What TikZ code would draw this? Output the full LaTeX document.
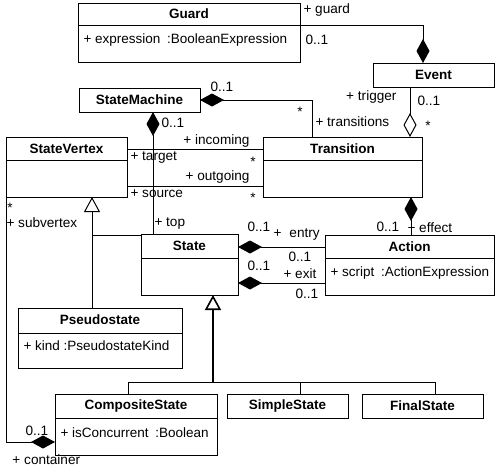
\documentclass[tikz,border=0pt]{standalone}
\usepackage{fontspec}
\setmainfont{Liberation Sans}
\usetikzlibrary{arrows.meta,calc}
\begin{document}
\begin{tikzpicture}[x=1pt,y=-1pt, line width=1pt,
  box/.style={draw, line width=1pt, anchor=north west, inner sep=0pt, outer sep=0pt},
  ttl/.style={font=\fontsize{13.5}{15}\selectfont\bfseries, inner sep=0pt},
  attr/.style={font=\fontsize{13.5}{15}\selectfont, anchor=west, inner sep=0pt},
  lbl/.style={font=\fontsize{13.6}{15}\selectfont, inner sep=0pt},
  comp/.style={{Diamond[length=24pt,width=13pt]}-},
  aggr/.style={{Diamond[open,length=24pt,width=13pt]}-},
  gen/.style={{Triangle[open,length=15pt,width=16pt]}-},
]
\useasboundingbox (0,0) rectangle (496,469);

% ---- classes ----
\node[box, minimum width=222pt, minimum height=59pt] (guard) at (78,3) {};
\node[ttl] (guardt) at ($(guard.north)+(0,11)$) {Guard};
\draw ($(guard.north west)+(0,22)$) -- ($(guard.north east)+(0,22)$);
\node[attr] (guarda) at (83,40) {+ expression\enspace:BooleanExpression};

\node[box, minimum width=121pt, minimum height=24pt] (event) at (373,63) {};
\node[ttl] (eventt) at (event.center) {Event};

\node[box, minimum width=121pt, minimum height=24pt] (sm) at (79,88) {};
\node[ttl] (smt) at (sm.center) {StateMachine};

\node[box, minimum width=121pt, minimum height=60pt] (sv) at (6,137) {};
\node[ttl] (svt) at ($(sv.north)+(0,12)$) {StateVertex};
\draw ($(sv.north west)+(0,23)$) -- ($(sv.north east)+(0,23)$);

\node[box, minimum width=159pt, minimum height=60pt] (trans) at (263,137) {};
\node[ttl] (transt) at ($(trans.north)+(0,12)$) {Transition};
\draw ($(trans.north west)+(0,23)$) -- ($(trans.north east)+(0,23)$);

\node[box, minimum width=97pt, minimum height=61pt] (state) at (141,234) {};
\node[ttl] (statet) at ($(state.north)+(0,12)$) {State};
\draw ($(state.north west)+(0,24)$) -- ($(state.north east)+(0,24)$);

\node[box, minimum width=169pt, minimum height=60pt] (action) at (325,235) {};
\node[ttl] (actiont) at ($(action.north)+(0,12)$) {Action};
\draw ($(action.north west)+(0,23)$) -- ($(action.north east)+(0,23)$);
\node[attr] (actiona) at (330,273) {+ script\enspace:ActionExpression};

\node[box, minimum width=164pt, minimum height=60pt] (ps) at (18,308) {};
\node[ttl] (pst) at ($(ps.north)+(0,12)$) {Pseudostate};
\draw ($(ps.north west)+(0,25)$) -- ($(ps.north east)+(0,25)$);
\node[attr] (psa) at (23,346) {+ kind :PseudostateKind};

\node[box, minimum width=162pt, minimum height=61pt] (cs) at (55,394) {};
\node[ttl] (cst) at ($(cs.north)+(0,12)$) {CompositeState};
\draw ($(cs.north west)+(0,24)$) -- ($(cs.north east)+(0,24)$);
\node[attr] (csa) at (60,433) {+ isConcurrent\enspace:Boolean};

\node[box, minimum width=121pt, minimum height=24pt] (ss) at (227,394) {};
\node[ttl] (sst) at (ss.center) {SimpleState};

\node[box, minimum width=121pt, minimum height=24pt] (fs) at (362,394) {};
\node[ttl] (fst) at (fs.center) {FinalState};

% ---- connectors ----
\draw[comp] ($(event.north west)+(50,0)$) |- ($(guard.north east)+(0,22)$);
\draw[comp] (sm.east) -| ($(trans.north west)+(49,0)$);
\draw[aggr] ($(trans.north west)+(147,0)$) -- ($(event.south west)+(37,0)$);
\draw[comp] ($(sm.south west)+(74,0)$) -- ($(state.north west)+(12,0)$);
\draw ($(sv.north east)+(0,12)$) -- ($(trans.north west)+(0,12)$);
\draw ($(sv.north east)+(0,49)$) -- ($(trans.north west)+(0,49)$);
\draw[comp] ($(trans.south west)+(148,0)$) -- ($(action.north west)+(86,0)$);
\draw[comp] ($(state.north east)+(0,13)$) -- ($(action.north west)+(0,12)$);
\draw[comp] ($(state.north east)+(0,49)$) -- ($(action.north west)+(0,48)$);

\coordinate (gs) at (213,382);
\draw[gen, line width=1.6pt] ($(state.south west)+(72,0)$) -- (gs);
\draw ($(cs.north west)+(73,0)$) |- (gs);
\draw ($(ss.north west)+(73,0)$) |- (gs);
\draw ($(fs.north west)+(73,0)$) |- (gs);

\draw[gen] ($(sv.south west)+(86,0)$) -- ($(ps.north west)+(74,0)$);
\draw ($(sv.south west)+(86,38)$) -- ($(state.north west)+(0,1)$);

\draw[comp] ($(cs.north west)+(0,48)$) -| (sv.south west);

% ---- labels ----
\node[lbl, anchor=west] (l1) at (303,10) {+ guard};
\node[lbl, anchor=west] (l2) at (305,40) {0..1};
\node[lbl, anchor=west] (l3) at (210,87) {0..1};
\node[lbl] (l4) at (300,112) {*};
\node[lbl, anchor=west] (l5) at (315,122) {+ transitions};
\node[lbl, anchor=east] (l6) at (397,97) {+ trigger};
\node[lbl, anchor=west] (l7) at (417,101) {0..1};
\node[lbl] (l8) at (428,126) {*};
\node[lbl, anchor=west] (l9) at (161,123) {0..1};
\node[lbl, anchor=west] (l10) at (154,224) {+ top};
\node[lbl, anchor=east] (l11) at (250,141) {+ incoming};
\node[lbl, anchor=west] (l12) at (130,158) {+ target};
\node[lbl] (l13) at (253,162) {*};
\node[lbl, anchor=east] (l14) at (250,177) {+ outgoing};
\node[lbl, anchor=west] (l15) at (130,194) {+ source};
\node[lbl] (l16) at (253,198) {*};
\node[lbl, anchor=west] (l17) at (376,227) {0..1};
\node[lbl, anchor=west] (l18) at (407,228) {+ effect};
\node[lbl, anchor=west] (l19) at (247,227) {0..1};
\node[lbl, anchor=west] (l20) at (273,235) {+\hspace{8pt}entry};
\node[lbl, anchor=west] (l21) at (288,257) {0..1};
\node[lbl, anchor=west] (l22) at (247,266) {0..1};
\node[lbl, anchor=west] (l23) at (283,274) {+ exit};
\node[lbl, anchor=west] (l24) at (295,294) {0..1};
\node[lbl] (l25) at (10,208) {*};
\node[lbl, anchor=west] (l26) at (6,223) {+ subvertex};
\node[lbl, anchor=west] (l27) at (25,431) {0..1};
\node[lbl, anchor=west] (l28) at (12,460) {+ container};
\end{tikzpicture}
\end{document}
